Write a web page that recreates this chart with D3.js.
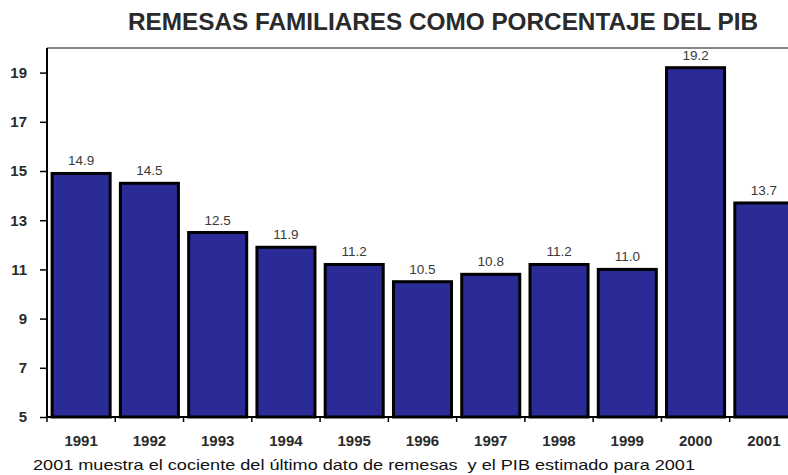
<!DOCTYPE html>
<html>
<head>
<meta charset="utf-8">
<script src="https://cdn.jsdelivr.net/npm/d3@7"></script>
<style>
  body { margin: 0; background: #fff; }
  svg { display: block; font-family: "Liberation Sans", Arial, sans-serif; }
</style>
</head>
<body>
<svg width="788" height="475"></svg>
<script>
// datos
var years = ["1991", "1992", "1993", "1994", "1995", "1996", "1997", "1998", "1999", "2000", "2001"];
var values = [14.9, 14.5, 12.5, 11.9, 11.2, 10.5, 10.8, 11.2, 11.0, 19.2, 13.7];
var yTicks = [5, 7, 9, 11, 13, 15, 17, 19];

var svg = d3.select("svg"),
    margin = { top: 48, left: 47, bottom: 417 };

var data = years.map(function (y, i) { return { year: y, value: values[i] }; });

// escalas (el grafico original esta cortado a la derecha)
var x = d3.scaleBand()
    .domain(years)
    .range([margin.left, margin.left + 11 * 68.27])
    .paddingInner(0.15)
    .paddingOuter(0.075);

var y = d3.scaleLinear().domain([5, 20]).range([margin.bottom, margin.top]);

// titulo
svg.append("text")
    .attr("x", 443).attr("y", 30)
    .attr("text-anchor", "middle")
    .attr("textLength", 630)
    .attr("lengthAdjust", "spacingAndGlyphs")
    .style("font-size", "23px")
    .style("font-weight", "bold")
    .style("fill", "#2a2a2a")
    .text("REMESAS FAMILIARES COMO PORCENTAJE DEL PIB");

// barras
svg.selectAll(".bar")
    .data(data)
    .enter().append("rect")
    .attr("class", "bar")
    .attr("x", function (d) { return x(d.year); })
    .attr("y", function (d) { return y(d.value); })
    .attr("width", x.bandwidth())
    .attr("height", function (d) { return y(5) - y(d.value); })
    .attr("fill", "#2b2b98")
    .attr("stroke", "#000")
    .attr("stroke-width", 3);

// etiquetas de valor
svg.selectAll(".lbl")
    .data(data)
    .enter().append("text")
    .attr("class", "lbl")
    .attr("x", function (d) { return x(d.year) + x.bandwidth() / 2; })
    .attr("y", function (d) { return y(d.value) - 8; })
    .attr("text-anchor", "middle")
    .style("font-size", "13.5px")
    .style("fill", "#3a3a3a")
    .text(function (d) { return d3.format(".1f")(d.value); });

// borde superior del area
svg.append("rect")
    .attr("x", margin.left).attr("y", margin.top - 8)
    .attr("width", 788 - margin.left).attr("height", 7)
    .attr("fill", "#fff");
svg.append("line")
    .attr("x1", margin.left).attr("x2", 788)
    .attr("y1", margin.top).attr("y2", margin.top)
    .attr("stroke", "#888").attr("stroke-width", 2);

// eje Y
var yAxis = d3.axisLeft(y).tickValues(yTicks).tickSize(7).tickPadding(13);
var gy = svg.append("g")
    .attr("transform", "translate(" + margin.left + ",0)")
    .call(yAxis);
gy.select(".domain").attr("stroke-width", 2).attr("d", "M0," + margin.bottom + "V" + margin.top);
gy.selectAll("text").style("font-size", "15px").style("font-weight", "bold").style("fill", "#2a2a2a");
gy.selectAll(".tick line").attr("stroke-width", 1.5);

// eje X
svg.append("line")
    .attr("x1", margin.left).attr("x2", 788)
    .attr("y1", margin.bottom).attr("y2", margin.bottom)
    .attr("stroke", "#000").attr("stroke-width", 2);

svg.selectAll(".xtick")
    .data(d3.range(years.length + 1))
    .enter().append("line")
    .attr("class", "xtick")
    .attr("x1", function (i) { return x.range()[0] + i * x.step(); })
    .attr("x2", function (i) { return x.range()[0] + i * x.step(); })
    .attr("y1", margin.bottom).attr("y2", margin.bottom + 5)
    .attr("stroke", "#000").attr("stroke-width", 1.5);

svg.selectAll(".xlbl")
    .data(years)
    .enter().append("text")
    .attr("class", "xlbl")
    .attr("x", function (d) { return x(d) + x.bandwidth() / 2; })
    .attr("y", 446)
    .attr("text-anchor", "middle")
    .style("font-size", "15px")
    .style("font-weight", "bold")
    .style("fill", "#2a2a2a")
    .text(function (d) { return d; });

// nota al pie
svg.append("text")
    .attr("x", 33).attr("y", 470)
    .attr("textLength", 662)
    .attr("lengthAdjust", "spacingAndGlyphs")
    .style("font-size", "15px")
    .style("white-space", "pre")
    .style("fill", "#111")
    .text("2001 muestra el cociente del último dato de remesas  y el PIB estimado para 2001");
</script>
</body>
</html>
